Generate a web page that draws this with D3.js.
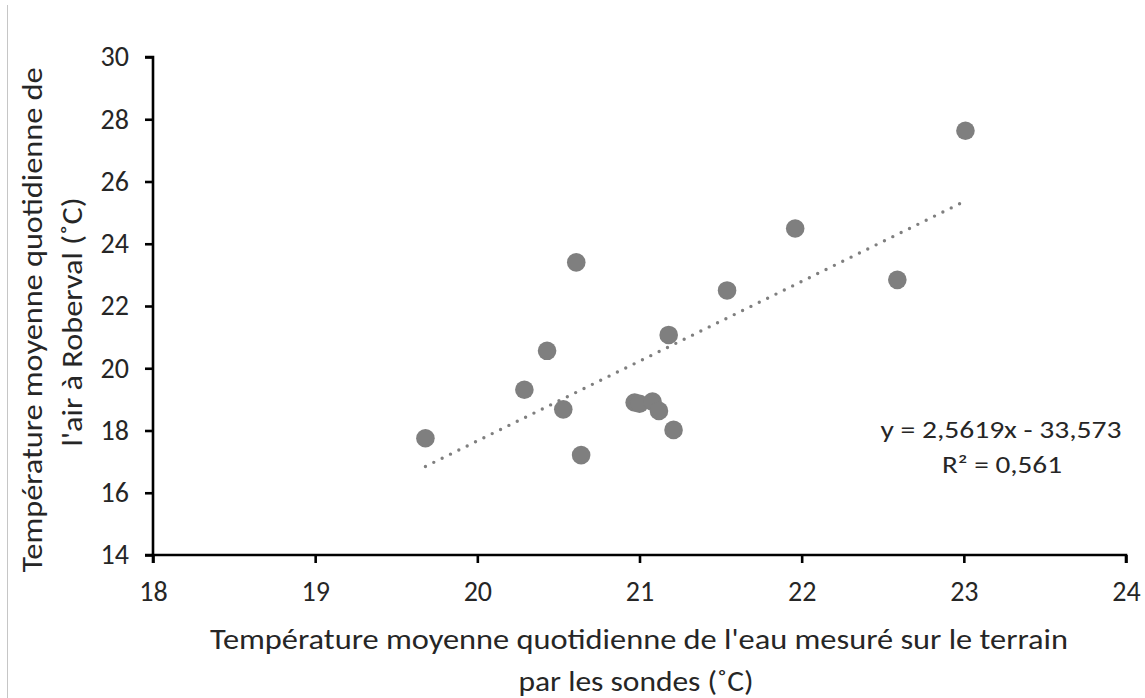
<!DOCTYPE html>
<html>
<head>
<meta charset="utf-8">
<script src="https://cdn.jsdelivr.net/npm/d3@7"></script>
<style>
  html, body { margin: 0; padding: 0; background: #fff; }
  svg { display: block; }
  text { font-family: Carlito, "Open Sans", sans-serif; fill: #262626; }
</style>
</head>
<body>
<svg id="chart" width="1145" height="698"></svg>
<script>
// ---- Data ----
const waterTemp = [19.68, 20.29, 20.43, 20.53, 20.64, 20.61, 20.97, 21.00, 21.08, 21.12, 21.18, 21.21, 21.54, 21.96, 22.59, 23.01];
const airTemp   = [17.75, 19.31, 20.56, 18.68, 17.21, 23.40, 18.90, 18.86, 18.93, 18.63, 21.07, 18.02, 22.50, 24.49, 22.84, 27.63];
const xTicks = [18, 19, 20, 21, 22, 23, 24];
const yTicks = [14, 16, 18, 20, 22, 24, 26, 28, 30];
const trendSlope = 2.5619;
const trendIntercept = -33.573;
const trendR2 = "0,561";
const equationLabel = "y = 2,5619x - 33,573";
const r2Label = "R² = " + trendR2;
const xTitleLines = ["Température moyenne quotidienne de l'eau mesuré sur le terrain", "par les sondes (˚C)"];
const yTitleLines = ["Température moyenne quotidienne de", "l'air à Roberval (˚C)"];

// ---- Chart ----
const svg = d3.select("#chart");
const x = d3.scaleLinear().domain([18, 24]).range([153, 1126]);
const y = d3.scaleLinear().domain([14, 30]).range([555, 57]);
const FONT = 'Carlito, "Open Sans", sans-serif';

// left border line
svg.append("line").attr("x1", 7.5).attr("x2", 7.5).attr("y1", 5).attr("y2", 698)
  .attr("stroke", "#c6c6c6").attr("stroke-width", 1);

// axes
const xAxis = svg.append("g").attr("transform", `translate(0,${y(14)})`)
  .call(d3.axisBottom(x).tickValues(xTicks).tickSize(8).tickPadding(18).tickFormat(d3.format("d")));
const yAxis = svg.append("g").attr("transform", `translate(${x(18)},0)`)
  .call(d3.axisLeft(y).tickValues(yTicks).tickSize(8).tickPadding(16).tickFormat(d3.format("d")));
[xAxis, yAxis].forEach(g => {
  g.select(".domain").attr("stroke", "#000").attr("stroke-width", 2.6);
  g.selectAll(".tick line").attr("stroke", "#000").attr("stroke-width", 2.6);
  g.selectAll(".tick text").style("font-size", "28px").attr("fill", "#262626")
    .style("font-family", FONT);
});
xAxis.select(".domain").attr("d", `M${x(18)},8V0H${x(24)}V8`);
yAxis.select(".domain").attr("d", `M-8,${y(30)}H0V${y(14)}H-8`);

// trend line
const xmin = d3.min(waterTemp), xmax = d3.max(waterTemp);
svg.append("line")
  .attr("x1", x(xmin)).attr("y1", y(trendSlope * xmin + trendIntercept))
  .attr("x2", x(xmax)).attr("y2", y(trendSlope * xmax + trendIntercept))
  .attr("stroke", "#7f7f7f").attr("stroke-width", 3.4)
  .attr("stroke-linecap", "round").attr("stroke-dasharray", "0 9.3");

// points
svg.append("g").selectAll("circle")
  .data(waterTemp.map((d, i) => [d, airTemp[i]]))
  .join("circle")
  .attr("cx", d => x(d[0])).attr("cy", d => y(d[1]))
  .attr("r", 9.3).attr("fill", "#7f7f7f");

// equation
svg.append("text").attr("x", 1001).attr("y", 438).attr("text-anchor", "middle")
  .style("font-size", "24px").attr("textLength", 241).attr("lengthAdjust", "spacingAndGlyphs")
  .text(equationLabel);
svg.append("text").attr("x", 1002).attr("y", 473).attr("text-anchor", "middle")
  .style("font-size", "24px").attr("textLength", 120).attr("lengthAdjust", "spacingAndGlyphs")
  .text(r2Label);

// x title
const xLens = [858, 235];
const xCx = [639, 636];
const xBase = [649, 691];
xTitleLines.forEach((t, i) => {
  svg.append("text").attr("x", xCx[i]).attr("y", xBase[i]).attr("text-anchor", "middle")
    .style("font-size", "28px").attr("textLength", xLens[i]).attr("lengthAdjust", "spacingAndGlyphs")
    .text(t);
});

// y title
const yLens = [505, 249];
const yCy = [320, 322];
const yBase = [42, 82];
yTitleLines.forEach((t, i) => {
  svg.append("text").attr("transform", `translate(${yBase[i]},${yCy[i]}) rotate(-90)`)
    .attr("text-anchor", "middle")
    .style("font-size", "28px").attr("textLength", yLens[i]).attr("lengthAdjust", "spacingAndGlyphs")
    .text(t);
});
</script>
</body>
</html>
